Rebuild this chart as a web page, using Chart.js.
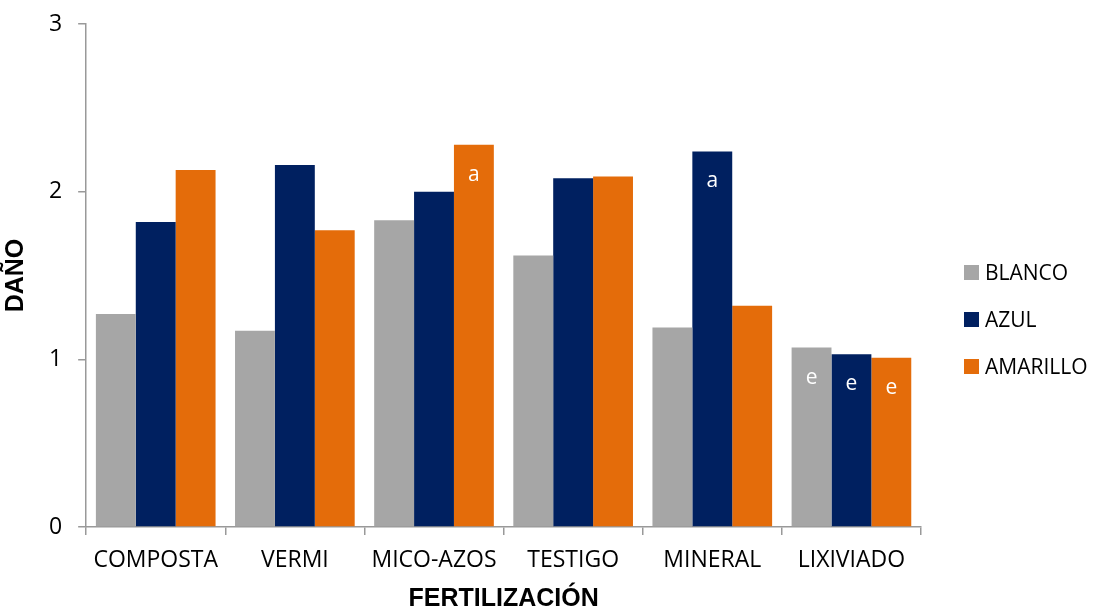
<!DOCTYPE html>
<html>
<head>
<meta charset="utf-8">
<script src="https://cdn.jsdelivr.net/npm/chart.js@4"></script>
<style>
  html, body { margin: 0; padding: 0; background: #fff; }
  #wrap { position: relative; width: 1101px; height: 609px; }
  #legend { position: absolute; left: 964px; top: 0; font-family: "Open Sans", sans-serif; font-size: 21px; color: #000; }
  .item { position: absolute; left: 0; white-space: nowrap; display: flex; align-items: center; }
  .sw { width: 15px; height: 15px; margin-right: 6px; }
</style>
</head>
<body>
<div id="wrap">
  <canvas id="c" width="1101" height="609"></canvas>
  <div id="legend"></div>
</div>
<script>
const categories = ['COMPOSTA', 'VERMI', 'MICO-AZOS', 'TESTIGO', 'MINERAL', 'LIXIVIADO'];
const seriesNames = ['BLANCO', 'AZUL', 'AMARILLO'];
const blanco   = [1.27, 1.17, 1.83, 1.62, 1.19, 1.07];
const azul     = [1.82, 2.16, 2.00, 2.08, 2.24, 1.03];
const amarillo = [2.13, 1.77, 2.28, 2.09, 1.32, 1.01];
const blancoLetters   = ['', '', '', '', '', 'e'];
const azulLetters     = ['', '', '', '', 'a', 'e'];
const amarilloLetters = ['', '', 'a', '', '', 'e'];
const colors = ['#A6A6A6', '#002060', '#E46C0A'];
const yTicks = [0, 1, 2, 3];

const seriesValues = [blanco, azul, amarillo];
const seriesLetters = [blancoLetters, azulLetters, amarilloLetters];

const letterPlugin = {
  id: 'letters',
  afterDatasetsDraw(chart) {
    const ctx = chart.ctx;
    ctx.save();
    ctx.fillStyle = '#ffffff';
    ctx.font = '21px "Open Sans", sans-serif';
    ctx.textAlign = 'center';
    ctx.textBaseline = 'middle';
    chart.data.datasets.forEach((ds, di) => {
      const meta = chart.getDatasetMeta(di);
      meta.data.forEach((bar, i) => {
        const t = seriesLetters[di][i];
        if (t) ctx.fillText(t, bar.x, bar.y + 30);
      });
    });
    ctx.restore();
  }
};

const chart = new Chart(document.getElementById('c'), {
  type: 'bar',
  data: {
    labels: categories,
    datasets: seriesNames.map((n, i) => ({
      label: n,
      data: seriesValues[i],
      backgroundColor: colors[i],
      borderWidth: 0,
      barPercentage: 1.0,
      categoryPercentage: 0.86
    }))
  },
  options: {
    responsive: false,
    animation: false,
    layout: { padding: { left: 1, right: 180, top: 2, bottom: 0 } },
    plugins: {
      legend: { display: false },
      tooltip: { enabled: false }
    },
    scales: {
      x: {
        grid: { display: true, drawOnChartArea: false, offset: true, tickLength: 8, color: '#999999', lineWidth: 1.5 },
        border: { display: true, color: '#999999', width: 1.5 },
        ticks: { color: '#000', font: { family: '"Open Sans", sans-serif', size: 23, lineHeight: 1.0 }, padding: 14, maxRotation: 0 },
        title: { display: true, text: 'FERTILIZACIÓN', color: '#000', font: { family: '"Liberation Sans", Arial, sans-serif', size: 25, weight: 'bold', lineHeight: 0.8 }, padding: { top: 3, bottom: 0 } }
      },
      y: {
        min: 0, max: 3,
        afterBuildTicks(axis) { axis.ticks = yTicks.map(v => ({ value: v })); },
        grid: { display: true, drawOnChartArea: false, tickLength: 8, color: '#999999', lineWidth: 1.5 },
        border: { display: true, color: '#999999', width: 1.5 },
        ticks: { color: '#000', font: { family: '"Open Sans", sans-serif', size: 23, lineHeight: 0.7 }, padding: 16 },
        title: { display: true, text: 'DAÑO', color: '#000', font: { family: '"Liberation Sans", Arial, sans-serif', size: 25, weight: 'bold', lineHeight: 1.2 }, padding: { top: 0, bottom: 2 } }
      }
    }
  },
  plugins: [letterPlugin]
});

// legend
const lg = document.getElementById('legend');
const legendTops = [258, 305, 352];
seriesNames.forEach((n, i) => {
  const d = document.createElement('div');
  d.className = 'item';
  d.style.top = legendTops[i] + 'px';
  d.innerHTML = '<span class="sw" style="background:' + colors[i] + '"></span><span>' + n + '</span>';
  lg.appendChild(d);
});
</script>
</body>
</html>
